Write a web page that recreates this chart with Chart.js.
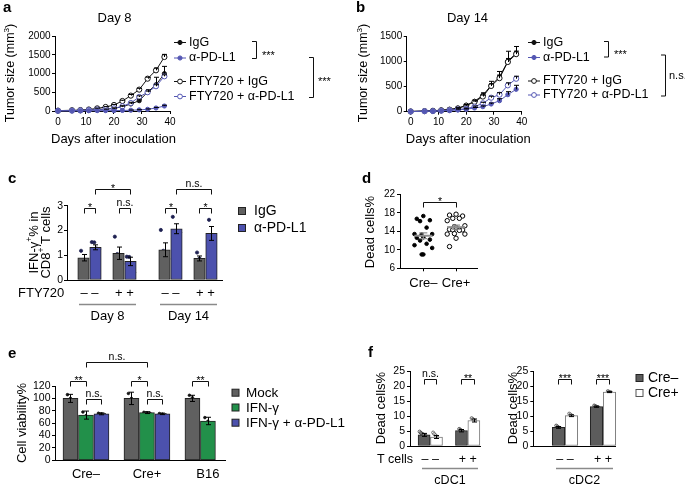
<!DOCTYPE html>
<html>
<head>
<meta charset="utf-8">
<script src="https://cdn.jsdelivr.net/npm/chart.js@4.4.0/dist/chart.umd.min.js"></script>
<style>
html, body { margin: 0; padding: 0; background: #fff; }
#wrap { position: relative; width: 685px; height: 485px; overflow: hidden; }
canvas { position: absolute; left: 0; top: 0; }
</style>
</head>
<body>
<div id="wrap">
  <canvas id="ca" width="685" height="485"></canvas>
  <canvas id="cb" width="685" height="485"></canvas>
  <canvas id="cc" width="685" height="485"></canvas>
  <canvas id="cd" width="685" height="485"></canvas>
  <canvas id="ce" width="685" height="485"></canvas>
  <canvas id="cf1" width="685" height="485"></canvas>
  <canvas id="cf2" width="685" height="485"></canvas>
</div>
<script>
// ---- data ----
// a, b: tumour growth
var days = [0, 5, 8, 11, 14, 17, 20, 23, 26, 29, 32, 35, 38];
var growthNames = ['IgG', 'α-PD-L1', 'FTY720 + IgG', 'FTY720 + α-PD-L1'];

var aIgG       = [5, 10, 15, 25, 40, 50, 70, 115, 187, 275, 505, 700, 995];
var aIgGErr    = [0, 0, 0, 0, 0, 0, 10, 15, 25, 40, 60, 200, 195];
var aPD        = [3, 5, 5, 8, 10, 10, 10, 15, 20, 30, 45, 80, 133];
var aPDErr     = [0, 0, 0, 0, 0, 0, 0, 0, 5, 5, 10, 15, 20];
var aFtyIgG    = [10, 20, 25, 40, 70, 107, 160, 267, 410, 570, 862, 1085, 1440];
var aFtyIgGErr = [0, 0, 0, 0, 5, 10, 15, 20, 30, 35, 40, 60, 70];
var aFtyPD     = [5, 10, 15, 25, 40, 45, 70, 125, 213, 375, 500, 660, 925];
var aFtyPDErr  = [0, 0, 0, 0, 0, 5, 10, 15, 20, 30, 30, 40, 40];

var bIgG       = [5, 15, 20, 30, 45, 70, 127, 206, 325, 522, 687, 998, 1162];
var bIgGErr    = [0, 0, 0, 0, 0, 10, 15, 20, 50, 80, 110, 200, 130];
var bPD        = [3, 8, 10, 15, 25, 35, 50, 73, 99, 152, 218, 337, 443];
var bPDErr     = [0, 0, 0, 0, 0, 0, 5, 10, 15, 20, 40, 60, 80];
var bFtyIgG    = [5, 12, 18, 28, 40, 65, 120, 195, 300, 510, 665, 985, 1140];
var bFtyIgGErr = [0, 0, 0, 0, 0, 5, 10, 15, 30, 40, 60, 70, 60];
var bFtyPD     = [3, 10, 12, 20, 30, 45, 60, 99, 166, 277, 337, 522, 653];
var bFtyPDErr  = [0, 0, 0, 0, 0, 5, 10, 15, 20, 30, 40, 50, 50];

// c: IFN-g+ % in CD8+ T cells
var cLabels  = ['– –', '+ +', '– –', '+ +'];
var cIgG     = [0.9, 1.08, 1.22, 0.87];
var cIgGErr  = [0.13, 0.25, 0.28, 0.1];
var cPD      = [1.32, 0.75, 2.07, 1.88];
var cPDErr   = [0.1, 0.17, 0.2, 0.28];
var cIgGDots = [[1.18, 0.78, 0.55], [1.75, 1.05, 0.98, 0.65], [2.02, 1.18, 0.91, 0.85], [1.11, 0.87, 0.75]];
var cPDDots  = [[1.53, 1.52, 1.27, 1.25], [0.94, 0.93, 0.58, 0.31], [2.55, 1.9, 1.88, 1.92], [2.43, 1.62, 1.6]];

// d: dead cells %
var dCats   = ['Cre–', 'Cre+'];
var dCreNeg = [17.3, 16.7, 16.4, 16.2, 14.8, 13.4, 13.4, 13.3, 12.7, 12.6, 12.2, 12.0, 11.3, 11.0, 10.4, 9.0, 9.0];
var dCrePos = [17.7, 17.5, 17.3, 16.8, 16.8, 16.3, 15.2, 15.0, 14.8, 14.4, 14.3, 14.3, 14.2, 13.4, 13.4, 13.5, 12.5, 10.7];

// e: cell viability %
var eCats     = ['Cre–', 'Cre+', 'B16'];
var eNames    = ['Mock', 'IFN-γ', 'IFN-γ + α-PD-L1'];
var eMock     = [100, 100, 100];
var eMockErr  = [6.5, 10, 5];
var eIFN      = [73, 77, 63.5];
var eIFNErr   = [6.5, 1.5, 6];
var ePD       = [75, 75];
var ePDErr    = [1.5, 1.2];
var eMockDots = [[106, 100, 94], [108, 100, 92], [105, 101, 97]];
var eIFNDots  = [[78, 72, 68], [77.5, 76.5, 76], [69, 63, 58]];
var ePDDots   = [[76, 75, 74], [75.5, 74.5, 73.5]];

// f: dead cells % in cDC1 / cDC2
var fLabels     = ['– –', '+ +'];
var fNames      = ['Cre–', 'Cre+'];
var f1Neg       = [3.7, 5.1];
var f1NegErr    = [0.5, 0.4];
var f1Pos       = [3.0, 8.5];
var f1PosErr    = [0.5, 0.5];
var f2Neg       = [6.2, 13.1];
var f2NegErr    = [0.3, 0.2];
var f2Pos       = [10.1, 18.0];
var f2PosErr    = [0.3, 0.2];
var f1NegDots   = [[4.8, 4.4, 4.1, 3.9, 3.7, 3.4, 3.2, 2.9, 2.6], [5.7, 5.4, 5.1, 4.9, 4.6]];
var f1PosDots   = [[4.5, 4.0, 3.6, 3.2, 2.7, 2.3, 1.6], [9.3, 9.0, 8.7, 8.3, 7.8]];
var f2NegDots   = [[6.8, 6.5, 6.2, 6.0, 5.8], [13.5, 13.3, 13.1, 12.9, 12.8]];
var f2PosDots   = [[10.8, 10.5, 10.2, 9.9, 9.6], [18.3, 18.1, 17.9, 17.8]];

// ---- style ----
var W = 685, H = 485;
var FONT = '"Liberation Sans", Arial, Helvetica, sans-serif';
var BLACK = '#111', BLUE = '#5457b3', GREY = '#606060', BARBLUE = '#4c51ad', GREEN = '#22904a';

Chart.defaults.font.family = FONT;
Chart.defaults.color = '#000';
Chart.defaults.animation = false;
Chart.defaults.events = [];
Chart.defaults.plugins.legend.display = false;
Chart.defaults.plugins.tooltip.enabled = false;

// error bars from dataset.err
Chart.register({
  id: 'errbars',
  afterDatasetsDraw: function (chart) {
    var ctx = chart.ctx, ys = chart.scales.y;
    chart.data.datasets.forEach(function (ds, di) {
      if (!ds.err) return;
      var meta = chart.getDatasetMeta(di);
      meta.data.forEach(function (el, i) {
        var e = ds.err[i];
        if (!e) return;
        var v = ds.data[i].y;
        var top = ys.getPixelForValue(v + e);
        var bot = ys.getPixelForValue(ds.errDown ? v - e : v);
        var cap = ds.cap || 2.5;
        var x = Math.round(el.x) + 0.5;
        ctx.save();
        ctx.strokeStyle = '#000';
        ctx.lineWidth = 1;
        ctx.beginPath();
        ctx.moveTo(x, top); ctx.lineTo(x, bot);
        ctx.moveTo(x - cap, top); ctx.lineTo(x + cap, top);
        if (ds.errDown) { ctx.moveTo(x - cap, bot); ctx.lineTo(x + cap, bot); }
        ctx.stroke();
        ctx.restore();
      });
    });
  }
});

function text(ctx, s, x, y, size, align, bold, base) {
  ctx.save();
  ctx.font = (bold ? 'bold ' : '') + size + 'px ' + FONT;
  ctx.fillStyle = '#000';
  ctx.textAlign = align || 'center';
  ctx.textBaseline = base || 'middle';
  ctx.fillText(s, x, y);
  ctx.restore();
}

// text with superscript parts, optionally rotated, centred at x,y
function rich(ctx, parts, x, y, size, rotate) {
  ctx.save();
  ctx.translate(x, y);
  if (rotate) ctx.rotate(-Math.PI / 2);
  ctx.fillStyle = '#000';
  ctx.textAlign = 'left';
  ctx.textBaseline = 'alphabetic';
  var w = 0;
  parts.forEach(function (p) {
    ctx.font = (p[1] ? size * 0.65 : size) + 'px ' + FONT;
    w += ctx.measureText(p[0]).width;
  });
  var cx = -w / 2;
  parts.forEach(function (p) {
    ctx.font = (p[1] ? size * 0.65 : size) + 'px ' + FONT;
    ctx.fillText(p[0], cx, p[1] ? size * 0.35 - size * 0.42 : size * 0.35);
    cx += ctx.measureText(p[0]).width;
  });
  ctx.restore();
}

function line(ctx, pts, color, width) {
  ctx.save();
  ctx.strokeStyle = color || '#000';
  ctx.lineWidth = width || 1;
  ctx.beginPath();
  pts.forEach(function (p, i) { if (i) ctx.lineTo(p[0], p[1]); else ctx.moveTo(p[0], p[1]); });
  ctx.stroke();
  ctx.restore();
}

// significance bracket between two x values at value y
function bracket(chart, x1, x2, yv, label, size) {
  var ctx = chart.ctx;
  var p1 = Math.round(chart.scales.x.getPixelForValue(x1)) + 0.5;
  var p2 = Math.round(chart.scales.x.getPixelForValue(x2)) + 0.5;
  var py = Math.round(chart.scales.y.getPixelForValue(yv)) + 0.5;
  line(ctx, [[p1, py + 5], [p1, py], [p2, py], [p2, py + 5]], '#111', 1);
  var star = label.indexOf('*') >= 0;
  text(ctx, label, (p1 + p2) / 2, star ? py + 2 : py - 3, size || 10.5, 'center', false, 'alphabetic');
}

function sideBracket(ctx, x, y1, y2) {
  line(ctx, [[x - 4, y1], [x + 0.5, y1], [x + 0.5, y2], [x - 4, y2]], '#111', 1);
}

function square(ctx, x, y, fill, stroke) {
  ctx.save();
  ctx.fillStyle = fill;
  ctx.strokeStyle = stroke || '#222';
  ctx.lineWidth = 1;
  ctx.fillRect(x + 0.5, y - 3.5, 7, 7);
  ctx.strokeRect(x + 0.5, y - 3.5, 7, 7);
  ctx.restore();
}

function scale(o) {
  var ticks = { display: !!o.show, font: { size: o.size || 10 }, color: '#000',
                padding: o.pad == null ? 2 : o.pad, autoSkip: false, maxRotation: 0 };
  ticks.callback = o.labels ? function (v, i) { return o.labels[i]; } : function (v) { return String(v); };
  return {
    type: 'linear', min: o.min, max: o.max, offset: false,
    border: { display: true, color: '#000', width: 1 },
    grid: { display: true, drawOnChartArea: false, drawTicks: !!o.tick, tickLength: 3, color: '#000', lineWidth: 1, offset: false },
    ticks: ticks,
    afterBuildTicks: function (s) { s.ticks = o.vals.map(function (v) { return { value: v }; }); },
    afterFit: function (s) { if (s.isHorizontal()) s.height = o.fit; else s.width = o.fit; }
  };
}

function padFor(area, yFit, xFit) {
  return { left: area.l - yFit, top: area.t, right: W - area.r, bottom: H - area.b - xFit };
}

function pts(xs, ys) { return ys.map(function (v, i) { return { x: xs[i], y: v }; }); }

// ---- a, b: tumour growth ----
function growthSet(vals, errs, color, open) {
  return {
    type: 'line', data: pts(days, vals), err: errs, cap: 2.5,
    borderColor: color, borderWidth: 1, tension: 0, clip: false,
    pointRadius: open ? 2.6 : 2.1, pointBorderWidth: 1,
    pointBackgroundColor: open ? '#fff' : color, pointBorderColor: color
  };
}

function growthLegend(ctx, x, rows) {
  var cols = [BLACK, BLUE, BLACK, BLUE];
  growthNames.forEach(function (n, i) {
    line(ctx, [[x - 6, rows[i]], [x + 6, rows[i]]], cols[i], 1);
    ctx.save();
    ctx.beginPath();
    ctx.arc(x, rows[i], i > 1 ? 2.4 : 2.1, 0, Math.PI * 2);
    ctx.fillStyle = i > 1 ? '#fff' : cols[i];
    ctx.strokeStyle = cols[i];
    ctx.fill(); ctx.stroke();
    ctx.restore();
    text(ctx, n, x + 9, rows[i], 12.5, 'left');
  });
}

function growthChart(id, area, xmin, ymax, yvals, sets, ann) {
  return new Chart(document.getElementById(id), {
    type: 'line',
    data: { datasets: sets },
    options: {
      responsive: false, devicePixelRatio: 1,
      layout: { padding: padFor(area, 45, 22) },
      scales: {
        x: scale({ min: xmin, max: 40, vals: [0, 10, 20, 30, 40], show: true, tick: true, fit: 22, pad: 2 }),
        y: scale({ min: 0, max: ymax, vals: yvals, show: true, tick: true, fit: 45, pad: 1.5 })
      }
    },
    plugins: [{ id: 'ann_' + id, afterDraw: ann }]
  });
}

growthChart('ca', { l: 55, t: 36, r: 170, b: 111 }, -1.07, 2000, [0, 500, 1000, 1500, 2000], [
  growthSet(aPD, aPDErr, BLUE, false),
  growthSet(aFtyPD, aFtyPDErr, BLUE, true),
  growthSet(aIgG, aIgGErr, BLACK, false),
  growthSet(aFtyIgG, aFtyIgGErr, BLACK, true)
], function (c) {
  var ctx = c.ctx;
  text(ctx, 'a', 3, 12, 15, 'left', true, 'alphabetic');
  text(ctx, 'Day 8', 114.5, 18, 13);
  text(ctx, 'Days after inoculation', 113.5, 139.5, 13);
  rich(ctx, [['Tumor size (mm', 0], ['3', 1], [')', 0]], 10, 73, 12.5, true);
  growthLegend(ctx, 180, [42.5, 58, 81.5, 96.5]);
  sideBracket(ctx, 256, 41.5, 58.5);
  text(ctx, '***', 262, 56, 11, 'left');
  sideBracket(ctx, 313, 57.5, 97.5);
  text(ctx, '***', 318, 82, 11, 'left');
});

growthChart('cb', { l: 406.7, t: 36, r: 521.7, b: 111.7 }, -1.44, 1500, [0, 500, 1000, 1500], [
  growthSet(bPD, bPDErr, BLUE, false),
  growthSet(bFtyPD, bFtyPDErr, BLUE, true),
  growthSet(bFtyIgG, bFtyIgGErr, BLACK, true),
  growthSet(bIgG, bIgGErr, BLACK, false)
], function (c) {
  var ctx = c.ctx;
  text(ctx, 'b', 356, 12, 15, 'left', true, 'alphabetic');
  text(ctx, 'Day 14', 467.5, 18, 13);
  text(ctx, 'Days after inoculation', 468.3, 139.5, 13);
  rich(ctx, [['Tumor size (mm', 0], ['3', 1], [')', 0]], 363, 73, 12.5, true);
  growthLegend(ctx, 534, [42.5, 57.5, 81, 95]);
  sideBracket(ctx, 608, 41.5, 57);
  text(ctx, '***', 614, 55, 11, 'left');
  sideBracket(ctx, 665, 55, 96);
  text(ctx, 'n.s.', 669, 76, 11, 'left');
});

// ---- bar helpers ----
function barSet(xs, vals, errs, fill, thick, stroke) {
  return {
    type: 'bar', data: pts(xs, vals), err: errs, errDown: true, cap: 2.5,
    backgroundColor: fill, borderColor: stroke || '#222', borderWidth: 1, borderSkipped: false,
    barThickness: thick, grouped: false, clip: false
  };
}

function dotSet(xs, lists, step, r, fill, stroke, filledFn) {
  var data = [], fills = [];
  lists.forEach(function (list, g) {
    list.forEach(function (v, i) {
      data.push({ x: xs[g] + (i - (list.length - 1) / 2) * step, y: v });
      fills.push(filledFn ? (filledFn(i, list.length) ? stroke : fill) : fill);
    });
  });
  return {
    type: 'scatter', data: data, clip: false,
    pointRadius: r, pointBorderWidth: 0.8, pointBackgroundColor: fills, pointBorderColor: stroke
  };
}

// ---- c ----
var cUnit = [1, 2, 3.314, 4.314];          // group centres along x
var cOff = 0.171;
var cX1 = cUnit.map(function (g) { return g - cOff; });
var cX2 = cUnit.map(function (g) { return g + cOff; });
var cArea = { l: 67, t: 205.7, r: 222, b: 280 };
new Chart(document.getElementById('cc'), {
  type: 'bar',
  data: { datasets: [
    barSet(cX1, cIgG, cIgGErr, GREY, 11.5),
    barSet(cX2, cPD, cPDErr, BARBLUE, 11.5),
    dotSet(cX1, cIgGDots, 0.07, 1.6, '#fff', '#1d2050', function (i, n) { return i < n / 2; }),
    dotSet(cX2, cPDDots, 0.07, 1.6, '#fff', '#1d2050', function (i, n) { return i < n / 2; })
  ] },
  options: {
    responsive: false, devicePixelRatio: 1,
    layout: { padding: padFor(cArea, 40, 22) },
    scales: {
      x: scale({ min: 0.357, max: 4.786, vals: cUnit, labels: cLabels, show: true, tick: false, fit: 22, size: 13, pad: 6 }),
      y: scale({ min: 0, max: 3, vals: [0, 1, 2, 3], show: true, tick: true, fit: 40, size: 10.5, pad: 1 })
    }
  },
  plugins: [{ id: 'ann_c', afterDraw: function (c) {
    var ctx = c.ctx;
    text(ctx, 'c', 8, 183, 15, 'left', true, 'alphabetic');
    rich(ctx, [['IFN-γ', 0], ['+', 1], ['% in', 0]], 33, 242.5, 13, true);
    rich(ctx, [['CD8', 0], ['+', 1], [' T cells', 0]], 45, 242.5, 13, true);
    bracket(c, cX1[0], cX2[0], 2.9, '*', 10.5);
    bracket(c, cX1[1], cX2[1], 2.9, 'n.s.', 10.5);
    bracket(c, cX1[2], cX2[2], 2.9, '*', 10.5);
    bracket(c, cX1[3], cX2[3], 2.9, '*', 10.5);
    bracket(c, cX2[0], cX2[1], 3.67, '*', 10.5);
    bracket(c, cX2[2], cX2[3], 3.67, 'n.s.', 10.5);
    text(ctx, 'FTY720', 18, 293.5, 13, 'left');
    line(ctx, [[79, 304.5], [136, 304.5]], '#8a8a8a', 1.5);
    line(ctx, [[160, 304.5], [217, 304.5]], '#8a8a8a', 1.5);
    text(ctx, 'Day 8', 107.5, 316, 13);
    text(ctx, 'Day 14', 188.5, 316, 13);
    square(ctx, 238, 211, GREY);
    square(ctx, 238, 228, BARBLUE);
    text(ctx, 'IgG', 254, 211.5, 14, 'left');
    text(ctx, 'α-PD-L1', 254, 228.5, 14, 'left');
  } }]
});

// ---- d ----
var jit = [0, -0.2, 0.2, -0.1, 0.1, -0.27, 0.27, -0.05];
function scatterPts(cx, vals) { return vals.map(function (v, i) { return { x: cx + jit[i % jit.length], y: v }; }); }
function meanSem(vals) {
  var m = vals.reduce(function (a, b) { return a + b; }, 0) / vals.length;
  var sd = Math.sqrt(vals.reduce(function (a, b) { return a + (b - m) * (b - m); }, 0) / (vals.length - 1));
  return [m, sd / Math.sqrt(vals.length)];
}
var dArea = { l: 400, t: 194.3, r: 477, b: 268.3 };
new Chart(document.getElementById('cd'), {
  type: 'scatter',
  data: { datasets: [
    { data: scatterPts(1, dCreNeg), pointRadius: 1.8, pointBackgroundColor: '#000', pointBorderColor: '#000', clip: false },
    { data: scatterPts(2, dCrePos), pointRadius: 2.2, pointBorderWidth: 1, pointBackgroundColor: '#fff', pointBorderColor: '#000', clip: false }
  ] },
  options: {
    responsive: false, devicePixelRatio: 1,
    layout: { padding: padFor(dArea, 40, 22) },
    scales: {
      x: scale({ min: 0.287, max: 2.64, vals: [1, 2], labels: dCats, show: true, tick: true, fit: 22, size: 13, pad: 4 }),
      y: scale({ min: 6, max: 22, vals: [6, 10, 14, 18, 22], show: true, tick: true, fit: 40, size: 10, pad: 2 })
    }
  },
  plugins: [{ id: 'ann_d', afterDraw: function (c) {
    var ctx = c.ctx;
    text(ctx, 'd', 362, 183, 15, 'left', true, 'alphabetic');
    rich(ctx, [['Dead cells%', 0]], 369, 232, 13, true);
    [dCreNeg, dCrePos].forEach(function (vals, k) {
      var ms = meanSem(vals), x = c.scales.x.getPixelForValue(k + 1);
      var ym = c.scales.y.getPixelForValue(ms[0]);
      var y1 = c.scales.y.getPixelForValue(ms[0] + ms[1]);
      var y2 = c.scales.y.getPixelForValue(ms[0] - ms[1]);
      line(ctx, [[x - 9, ym], [x + 9, ym]], '#8d8d8d', 2);
      line(ctx, [[x, y1], [x, y2]], '#8d8d8d', 1.2);
      line(ctx, [[x - 4, y1], [x + 4, y1]], '#8d8d8d', 1.2);
      line(ctx, [[x - 4, y2], [x + 4, y2]], '#8d8d8d', 1.2);
    });
    bracket(c, 1, 2, 20.4, '*', 10.5);
  } }]
});

// ---- e ----
var eUnit = [1, 2, 3];
var eOff = 0.254;
var eX1 = eUnit.map(function (g) { return g - eOff; });
var eX2 = eUnit.slice();
var eX3 = eUnit.map(function (g) { return g + eOff; });
var eArea = { l: 55, t: 386, r: 225, b: 460.3 };
new Chart(document.getElementById('ce'), {
  type: 'bar',
  data: { datasets: [
    barSet(eX1, eMock, eMockErr, GREY, 15),
    barSet(eX2, eIFN, eIFNErr, GREEN, 15),
    barSet(eX3, ePD, ePDErr, BARBLUE, 15),
    dotSet(eX1, eMockDots, 0.05, 1.3, '#111', '#111'),
    dotSet(eX2, eIFNDots, 0.05, 1.3, '#111', '#111'),
    dotSet(eX3, ePDDots, 0.05, 1.3, '#111', '#111')
  ] },
  options: {
    responsive: false, devicePixelRatio: 1,
    layout: { padding: padFor(eArea, 40, 22) },
    scales: {
      x: scale({ min: 0.492, max: 3.28, vals: eUnit, labels: eCats, show: true, tick: false, fit: 22, size: 13, pad: 6 }),
      y: scale({ min: 0, max: 120, vals: [0, 20, 40, 60, 80, 100, 120], show: true, tick: true, fit: 40, size: 10.5, pad: 1.5 })
    }
  },
  plugins: [{ id: 'ann_e', afterDraw: function (c) {
    var ctx = c.ctx;
    text(ctx, 'e', 8, 358, 15, 'left', true, 'alphabetic');
    rich(ctx, [['Cell viability%', 0]], 21, 423, 13, true);
    bracket(c, eX1[0], eX2[0], 128, '**', 10.5);
    bracket(c, eX2[0], eX3[0], 99, 'n.s.', 10.5);
    bracket(c, eX1[1], eX2[1], 128, '*', 10.5);
    bracket(c, eX2[1], eX3[1], 99, 'n.s.', 10.5);
    bracket(c, eX1[2], eX2[2], 128, '**', 10.5);
    bracket(c, eX2[0], eX2[1], 158.5, 'n.s.', 10.5);
    var fills = [GREY, GREEN, BARBLUE], rows = [392.7, 407.5, 422.7];
    eNames.forEach(function (n, i) {
      square(ctx, 231.5, rows[i], fills[i]);
      text(ctx, n, 246, rows[i] + 0.5, 13.5, 'left');
    });
  } }]
});

// ---- f ----
function fChart(id, area, xmin, xmax, off, thick, neg, negErr, pos, posErr, negDots, posDots, ann) {
  var xs1 = [1 - off, 2 - off], xs2 = [1 + off, 2 + off];
  return new Chart(document.getElementById(id), {
    type: 'bar',
    data: { datasets: [
      barSet(xs1, neg, negErr, '#5c5c5c', thick),
      barSet(xs2, pos, posErr, '#ffffff', thick, '#7a7a7a'),
      dotSet(xs1, negDots, 0.03, 1.5, 'rgba(255,255,255,0.35)', '#333'),
      dotSet(xs2, posDots, 0.03, 1.5, '#fff', '#555')
    ] },
    options: {
      responsive: false, devicePixelRatio: 1,
      layout: { padding: padFor(area, 30, 22) },
      scales: {
        x: scale({ min: xmin, max: xmax, vals: [1, 2], labels: fLabels, show: true, tick: false, fit: 22, size: 12.5, pad: 6.5 }),
        y: scale({ min: 0, max: 25, vals: [0, 5, 10, 15, 20, 25], show: true, tick: true, fit: 30, size: 10.5, pad: 2 })
      }
    },
    plugins: [{ id: 'ann_' + id, afterDraw: function (c) { ann(c, xs1, xs2); } }]
  });
}

fChart('cf1', { l: 410, t: 371, r: 480, b: 446 }, 0.457, 2.33, 0.166, 12,
  f1Neg, f1NegErr, f1Pos, f1PosErr, f1NegDots, f1PosDots, function (c, xs1, xs2) {
    var ctx = c.ctx;
    text(ctx, 'f', 368, 357, 15, 'left', true, 'alphabetic');
    rich(ctx, [['Dead cells%', 0]], 380, 408, 13, true);
    bracket(c, xs1[0], xs2[0], 22.3, 'n.s.', 10.5);
    bracket(c, xs1[1], xs2[1], 22.3, '**', 10.5);
    text(ctx, 'T cells', 377, 459.5, 12.5, 'left');
    line(ctx, [[422, 468.5], [478, 468.5]], '#8a8a8a', 1.5);
    text(ctx, 'cDC1', 450, 480.5, 12.5);
  });

fChart('cf2', { l: 533.3, t: 371, r: 615, b: 446 }, 0.166, 2.316, 0.171, 12.5,
  f2Neg, f2NegErr, f2Pos, f2PosErr, f2NegDots, f2PosDots, function (c, xs1, xs2) {
    var ctx = c.ctx;
    rich(ctx, [['Dead cells%', 0]], 512, 408, 13, true);
    bracket(c, xs1[0], xs2[0], 22.3, '***', 10.5);
    bracket(c, xs1[1], xs2[1], 22.3, '***', 10.5);
    line(ctx, [[556, 468.5], [613, 468.5]], '#8a8a8a', 1.5);
    text(ctx, 'cDC2', 584.5, 480.5, 12.5);
    square(ctx, 635.5, 378, '#5c5c5c');
    square(ctx, 635.5, 393, '#ffffff', '#555');
    text(ctx, fNames[0], 648, 378.5, 14, 'left');
    text(ctx, fNames[1], 648, 393.5, 14, 'left');
  });
</script>
</body>
</html>
